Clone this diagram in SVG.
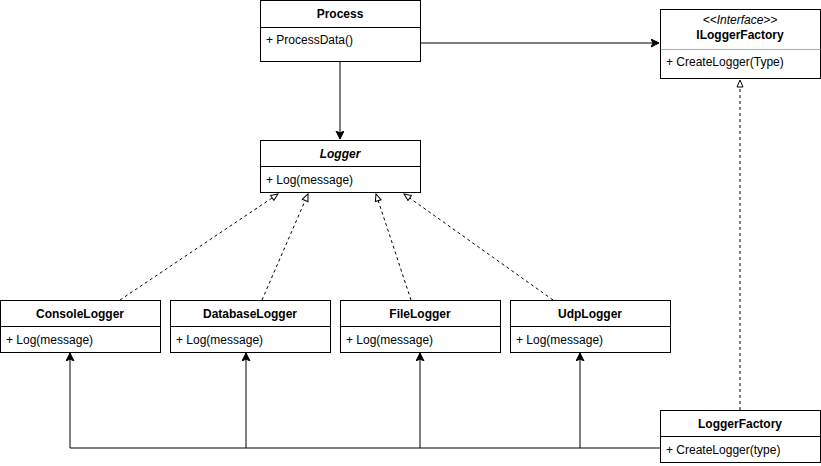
<svg xmlns="http://www.w3.org/2000/svg" width="821" height="466" viewBox="0 0 821 466">
<style>
.box{fill:#fff;stroke:#000;stroke-width:1}
.sep{stroke:#000;stroke-width:1}
.t{font-family:"Liberation Sans",Arial,sans-serif;font-size:12px;fill:#000}
.b{font-weight:bold;text-anchor:middle}
.i{font-style:italic}
.c{text-anchor:middle}
.line{fill:none;stroke:#000;stroke-width:1}
.dash{fill:none;stroke:#000;stroke-width:1;stroke-dasharray:3,3}
</style>
<defs>
<marker id="open" markerWidth="10" markerHeight="10" refX="7" refY="4" orient="auto" markerUnits="userSpaceOnUse">
<path d="M0,0 L7,4 L0,8 Z" fill="#fff" stroke="#000" stroke-width="1"/>
</marker>
<marker id="hollow" markerWidth="12" markerHeight="12" refX="8" refY="4" orient="auto" markerUnits="userSpaceOnUse">
<path d="M1,1 L8,4 L1,7 Z" fill="#fff" stroke="#000" stroke-width="1"/>
</marker>
<marker id="filled" markerWidth="10" markerHeight="10" refX="8" refY="4" orient="auto" markerUnits="userSpaceOnUse">
<path d="M0,0 L8,4 L0,8 L2,4 Z" fill="#000" stroke="#000" stroke-width="1"/>
</marker>
</defs>
<g id="connectors">
<path class="line" d="M420,43 L659,43" marker-end="url(#filled)"/>
<path class="line" d="M340,61 L340,139" marker-end="url(#filled)"/>
<path class="dash" d="M120,300 L278,194" marker-end="url(#hollow)"/>
<path class="dash" d="M262,300 L308,194" marker-end="url(#hollow)"/>
<path class="dash" d="M411,300 L376,194" marker-end="url(#hollow)"/>
<path class="dash" d="M553,300 L404,194" marker-end="url(#hollow)"/>
<path class="dash" d="M740,410 L740,80" marker-end="url(#hollow)"/>
<path class="line" d="M660,448 L70,448 L70,353" marker-end="url(#filled)"/>
<path class="line" d="M246,448 L246,353" marker-end="url(#filled)"/>
<path class="line" d="M420,448 L420,353" marker-end="url(#filled)"/>
<path class="line" d="M580,448 L580,353" marker-end="url(#filled)"/>
</g>
<g id="process">
<rect class="box" x="260.5" y="0.5" width="160" height="61"/>
<line class="sep" x1="260.5" y1="27.5" x2="420.5" y2="27.5"/>
<text class="t b" x="340" y="18">Process</text>
<text class="t" x="266" y="44">+ ProcessData()</text>
</g>
<g id="iloggerfactory">
<rect class="box" x="660.5" y="9.5" width="160" height="69" stroke="#222"/>
<line x1="660.5" y1="49.5" x2="820.5" y2="49.5" stroke="#aaa" stroke-width="1"/>
<text class="t i c" x="740" y="24">&lt;&lt;Interface&gt;&gt;</text>
<text class="t b" x="740" y="39">ILoggerFactory</text>
<text class="t" x="666" y="66">+ CreateLogger(Type)</text>
</g>
<g id="logger">
<rect class="box" x="260.5" y="140.5" width="160" height="52"/>
<line class="sep" x1="260.5" y1="166.5" x2="420.5" y2="166.5"/>
<text class="t b i" x="340" y="158">Logger</text>
<text class="t" x="266" y="184">+ Log(message)</text>
</g>
<g id="consolelogger">
<rect class="box" x="0.5" y="300.5" width="160" height="52"/>
<line class="sep" x1="0.5" y1="326.5" x2="160.5" y2="326.5"/>
<text class="t b" x="80" y="318">ConsoleLogger</text>
<text class="t" x="6" y="344">+ Log(message)</text>
</g>
<g id="databaselogger">
<rect class="box" x="170.5" y="300.5" width="160" height="52"/>
<line class="sep" x1="170.5" y1="326.5" x2="330.5" y2="326.5"/>
<text class="t b" x="250" y="318">DatabaseLogger</text>
<text class="t" x="176" y="344">+ Log(message)</text>
</g>
<g id="filelogger">
<rect class="box" x="340.5" y="300.5" width="160" height="52"/>
<line class="sep" x1="340.5" y1="326.5" x2="500.5" y2="326.5"/>
<text class="t b" x="420" y="318">FileLogger</text>
<text class="t" x="346" y="344">+ Log(message)</text>
</g>
<g id="udplogger">
<rect class="box" x="510.5" y="300.5" width="160" height="52"/>
<line class="sep" x1="510.5" y1="326.5" x2="670.5" y2="326.5"/>
<text class="t b" x="590" y="318">UdpLogger</text>
<text class="t" x="516" y="344">+ Log(message)</text>
</g>
<g id="loggerfactory">
<rect class="box" x="660.5" y="410.5" width="160" height="52"/>
<line class="sep" x1="660.5" y1="436.5" x2="820.5" y2="436.5"/>
<text class="t b" x="740" y="428">LoggerFactory</text>
<text class="t" x="666" y="454">+ CreateLogger(type)</text>
</g>
</svg>
